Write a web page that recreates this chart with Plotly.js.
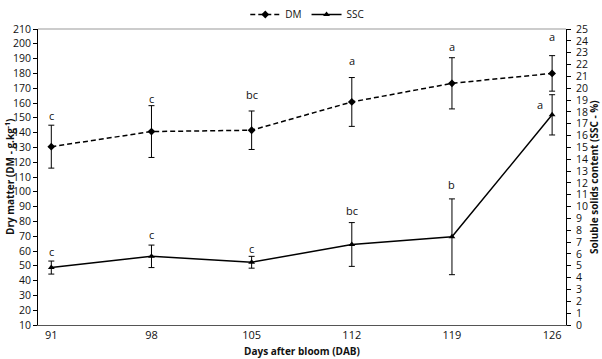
<!DOCTYPE html>
<html>
<head>
<meta charset="utf-8">
<script src="https://cdn.plot.ly/plotly-3.0.1.min.js"></script>
<style>html,body{margin:0;padding:0;background:#fff;}#chart{width:602px;height:359px;}</style>
</head>
<body>
<div id="chart"></div>
<script>
// Data
var days = [91, 98, 105, 112, 119, 126];
var dmValues = [130.5, 140.7, 141.6, 160.7, 173.3, 180.0];
var dmErrors = [14.5, 17.5, 13.0, 16.5, 17.3, 12.0];
var dmLetters = ['c', 'c', 'bc', 'a', 'a', 'a'];
var sscValues = [4.85, 5.8, 5.3, 6.8, 7.45, 17.75];
var sscErrors = [0.55, 0.95, 0.5, 1.85, 3.2, 1.7];
var sscLetters = ['c', 'c', 'c', 'bc', 'b', 'a'];

// Label placement (pixels above the error-bar top, and horizontal shift)
var dmLift = [10, 7, 16, 17, 11, 19];
var sscLift = [10, 11, 8, 12, 14, -10];
var sscShiftX = [0, 0, 0, 0, 0, -12];

var font = 'Open Sans, Noto Sans, sans-serif';

var dm = {
  x: days, y: dmValues, name: 'DM', type: 'scatter', mode: 'lines+markers',
  line: {color: '#000', width: 1.5, dash: '5px,3px'},
  marker: {symbol: 'diamond', size: 6, color: '#000'},
  error_y: {type: 'data', array: dmErrors, visible: true, color: '#000', thickness: 1, width: 3},
  yaxis: 'y'
};
var ssc = {
  x: days, y: sscValues, name: 'SSC', type: 'scatter', mode: 'lines+markers',
  line: {color: '#000', width: 1.5},
  marker: {symbol: 'triangle-up', size: 6, color: '#000'},
  error_y: {type: 'data', array: sscErrors, visible: true, color: '#000', thickness: 1, width: 3},
  yaxis: 'y2'
};

var annotations = [];
days.forEach(function (d, i) {
  annotations.push({x: d, y: dmValues[i] + dmErrors[i], xref: 'x', yref: 'y', text: dmLetters[i],
    showarrow: false, yanchor: 'middle', yshift: dmLift[i], font: {family: font, size: 11, color: '#111'}});
  annotations.push({x: d, y: sscValues[i] + sscErrors[i], xref: 'x', yref: 'y2', text: sscLetters[i],
    showarrow: false, yanchor: 'middle', yshift: sscLift[i], xshift: sscShiftX[i], font: {family: font, size: 11, color: '#111'}});
});
// Axis titles
annotations.push({xref: 'paper', yref: 'paper', x: 0, xshift: -28, y: 0.5, text: '<b>Dry matter (DM - g.kg<sup>-1</sup>)</b>',
  textangle: -90, showarrow: false, xanchor: 'center', yanchor: 'middle', font: {family: font, size: 10, color: '#111'}});
annotations.push({xref: 'paper', yref: 'paper', x: 1, xshift: 28, y: 0.5, text: '<b>Soluble solids content (SSC - %)</b>',
  textangle: -90, showarrow: false, xanchor: 'center', yanchor: 'middle', font: {family: font, size: 10, color: '#111'}});

var layout = {
  width: 602, height: 359,
  margin: {l: 38, r: 36, t: 14, b: 34, pad: 0},
  paper_bgcolor: '#fff', plot_bgcolor: '#fff',
  font: {family: font, size: 10, color: '#111'},
  showlegend: true,
  legend: {orientation: 'h', x: 0.51, xanchor: 'center', y: 1, yref: 'container', yanchor: 'top',
    font: {family: font, size: 10, color: '#111'}, itemwidth: 30, tracegroupgap: 0, bgcolor: 'rgba(0,0,0,0)'},
  xaxis: {
    range: [90.07, 126.97], tickmode: 'array', tickvals: days, ticktext: days.map(String),
    showgrid: false, zeroline: false, showline: true, linecolor: '#555', linewidth: 1,
    ticks: '', tickfont: {family: font, size: 11, color: '#111'},
    title: {text: '<b>Days after bloom (DAB)</b>', font: {family: font, size: 10, color: '#111'}, standoff: 6}
  },
  yaxis: {
    range: [10, 210], dtick: 10, tick0: 10, showgrid: false, zeroline: false,
    showline: true, linecolor: '#000', linewidth: 1, ticks: 'outside', ticklen: 4, tickcolor: '#000',
    tickfont: {family: font, size: 10.5, color: '#111'}
  },
  yaxis2: {
    range: [0, 25], dtick: 1, overlaying: 'y', side: 'right', showgrid: false, zeroline: false,
    showline: true, linecolor: '#000', linewidth: 1, ticks: 'outside', ticklen: 4, tickcolor: '#000',
    ticklabelstandoff: 3,
    tickfont: {family: font, size: 10.5, color: '#111'}
  },
  shapes: [{type: 'line', xref: 'paper', yref: 'paper', x0: 0, x1: 1, y0: 1, y1: 1, line: {color: '#999', width: 1}}],
  annotations: annotations
};

Plotly.newPlot('chart', [dm, ssc], layout, {displayModeBar: false, staticPlot: true});
</script>
</body>
</html>
